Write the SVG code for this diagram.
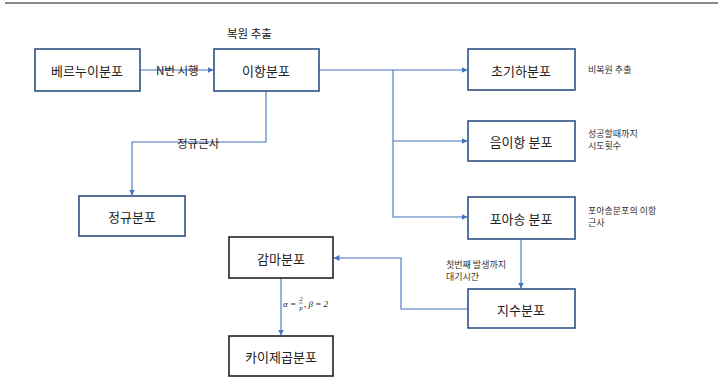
<svg xmlns="http://www.w3.org/2000/svg" width="718" height="388" viewBox="0 0 718 388">
<defs>
<marker id="arr" viewBox="0 0 6 6" refX="5.5" refY="3" markerWidth="6" markerHeight="6" markerUnits="userSpaceOnUse" orient="auto">
<path d="M0,0 L6,3 L0,6 z" fill="#4472C4"/>
</marker>
<style>
.box{fill:#fff;stroke:#2F4F86;stroke-width:1.6}
.boxk{fill:#fff;stroke:#222;stroke-width:1.6}
.lbl{font-family:"Noto Sans CJK KR","Liberation Sans",sans-serif;font-size:13px;fill:#222;text-anchor:middle;dominant-baseline:central}
.ed{fill:none;stroke:#4472C4;stroke-width:1.1}
.el{font-family:"Noto Sans CJK KR","Liberation Sans",sans-serif;font-size:11.5px;fill:#222;dominant-baseline:central}
.nt{font-family:"Noto Sans CJK KR","Liberation Sans",sans-serif;font-size:9px;fill:#333;dominant-baseline:central}
.m{font-family:"Liberation Serif",serif;font-style:italic;fill:#222}
</style>
</defs>
<rect width="718" height="388" fill="#fff"/>
<line x1="5" y1="3" x2="718" y2="3" stroke="#888" stroke-width="2"/>
<g id="connectors">
<line class="ed" x1="140" y1="70" x2="213" y2="70" marker-end="url(#arr)"/>
<polyline class="ed" points="319,70 393,70 467,70" marker-end="url(#arr)"/>
<polyline class="ed" points="393,70 393,217 467,217" marker-end="url(#arr)"/>
<line class="ed" x1="393" y1="141" x2="467" y2="141" marker-end="url(#arr)"/>
<polyline class="ed" points="266,91 266,142 132,142 132,195" marker-end="url(#arr)"/>
<line class="ed" x1="521" y1="239" x2="521" y2="288" marker-end="url(#arr)"/>
<polyline class="ed" points="468,309 401,309 401,258 334,258" marker-end="url(#arr)"/>
<line class="ed" x1="281" y1="278" x2="281" y2="335" marker-end="url(#arr)"/>
<text class="el" x="156" y="70">N번 시행</text>
<text class="el" x="177" y="143">정규근사</text>
<text class="el" x="227" y="33">복원 추출</text>
<text class="nt" x="446" y="264">첫번째 발생까지</text>
<text class="nt" x="446" y="276">대기시간</text>
<text class="m" x="283" y="307" font-size="9">α =</text>
<text class="m" x="301" y="301" font-size="6.5" text-anchor="middle">2</text>
<line x1="299" y1="303" x2="303" y2="303" stroke="#222" stroke-width="0.5"/>
<text class="m" x="301" y="310" font-size="6.5" text-anchor="middle">p</text>
<text class="m" x="304" y="307" font-size="9">, β = 2</text>
</g>
<g id="bernoulli"><rect class="box" x="35" y="49" width="105" height="42"/><text class="lbl" x="87" y="70">베르누이분포</text></g>
<g id="binomial"><rect class="box" x="214" y="49" width="105" height="42"/><text class="lbl" x="266" y="70">이항분포</text></g>
<g id="hypergeom"><rect class="box" x="468" y="49" width="107" height="41"/><text class="lbl" x="521" y="70">초기하분포</text></g>
<g id="negbinom"><rect class="box" x="468" y="121" width="107" height="40"/><text class="lbl" x="521" y="141">음이항 분포</text></g>
<g id="poisson"><rect class="box" x="468" y="197" width="107" height="42"/><text class="lbl" x="521" y="218">포아송 분포</text></g>
<g id="exponential"><rect class="box" x="468" y="289" width="107" height="39"/><text class="lbl" x="521" y="309">지수분포</text></g>
<g id="normal"><rect class="box" x="79" y="196" width="106" height="40"/><text class="lbl" x="132" y="216">정규분포</text></g>
<g id="gamma"><rect class="boxk" x="229" y="237" width="104" height="41"/><text class="lbl" x="281" y="258">감마분포</text></g>
<g id="chisq"><rect class="boxk" x="229" y="336" width="104" height="40"/><text class="lbl" x="281" y="356">카이제곱분포</text></g>
<g id="notes">
<text class="nt" x="588" y="69">비복원 추출</text>
<text class="nt" x="588" y="133">성공할때까지</text>
<text class="nt" x="588" y="145">시도횟수</text>
<text class="nt" x="588" y="210">포아송분포의 이항</text>
<text class="nt" x="588" y="222">근사</text>
</g>
</svg>
